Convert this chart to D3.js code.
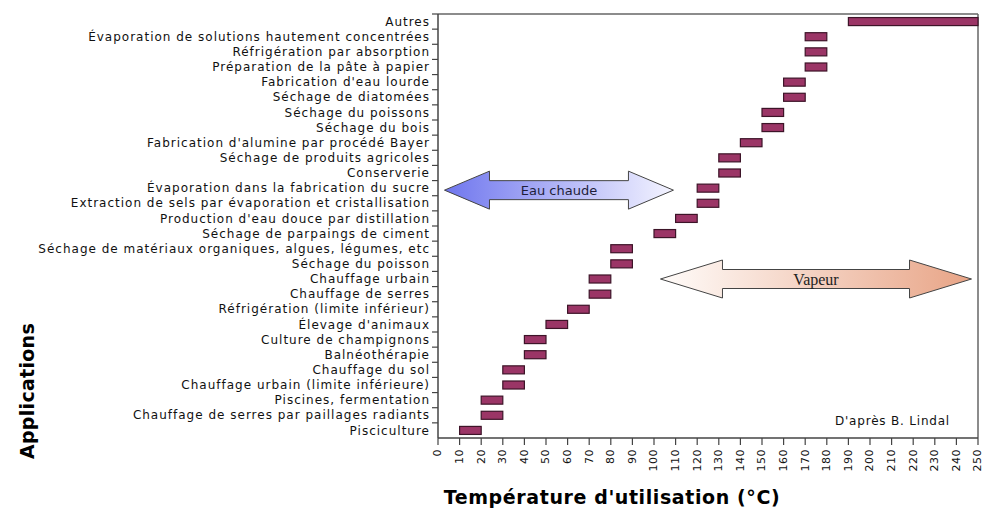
<!DOCTYPE html>
<html><head><meta charset="utf-8">
<script src="https://cdn.jsdelivr.net/npm/d3@7"></script>
<style>body{margin:0;background:#fff}svg{display:block}</style>
</head><body><svg id="c" width="982" height="511"></svg>
<script>
const categories = [
  "Autres",
  "Évaporation de solutions hautement concentrées",
  "Réfrigération par absorption",
  "Préparation de la pâte à papier",
  "Fabrication d'eau lourde",
  "Séchage de diatomées",
  "Séchage du poissons",
  "Séchage du bois",
  "Fabrication d'alumine par procédé Bayer",
  "Séchage de produits agricoles",
  "Conserverie",
  "Évaporation dans la fabrication du sucre",
  "Extraction de sels par évaporation et cristallisation",
  "Production d'eau douce par distillation",
  "Séchage de parpaings de ciment",
  "Séchage de matériaux organiques, algues, légumes, etc",
  "Séchage du poisson",
  "Chauffage urbain",
  "Chauffage de serres",
  "Réfrigération (limite inférieur)",
  "Élevage d'animaux",
  "Culture de champignons",
  "Balnéothérapie",
  "Chauffage du sol",
  "Chauffage urbain (limite inférieure)",
  "Piscines, fermentation",
  "Chauffage de serres par paillages radiants",
  "Pisciculture"
];
const tempMin = [190,170,170,170,160,160,150,150,140,130,130,120,120,110,100,80,80,70,70,60,50,40,40,30,30,20,20,10];
const tempMax = [250,180,180,180,170,170,160,160,150,140,140,130,130,120,110,90,90,80,80,70,60,50,50,40,40,30,30,20];
const xTicks = d3.range(0, 251, 10);
const arrowLabels = ["Eau chaude", "Vapeur"];
const arrowFrom = [3, 103];
const arrowTo = [109, 247];
const arrowRow = ["Évaporation dans la fabrication du sucre", "Chauffage urbain"];

const svg = d3.select("#c");
const L = 438, R = 978, T = 14, B = 438;
const x = d3.scaleLinear().domain([0, 250]).range([L, R]);
const y = d3.scaleBand().domain(categories).range([T, B]).paddingInner(0.47).paddingOuter(0.235);
const yb = d3.scaleBand().domain(categories).range([T, B]);

const defs = svg.append("defs");
const g1 = defs.append("linearGradient").attr("id","gBlue").attr("x1","0").attr("x2","1").attr("y1","0").attr("y2","0");
g1.append("stop").attr("offset","0").attr("stop-color","#6f76ee");
g1.append("stop").attr("offset","1").attr("stop-color","#f4f4ff");
const g2 = defs.append("linearGradient").attr("id","gSalmon").attr("x1","0").attr("x2","1").attr("y1","0").attr("y2","0");
g2.append("stop").attr("offset","0").attr("stop-color","#fffcfa");
g2.append("stop").attr("offset","1").attr("stop-color","#e8a486");

// frame
svg.append("line").attr("x1",L).attr("x2",R).attr("y1",T).attr("y2",T).attr("stroke","#666").attr("stroke-width",1.5);
svg.append("line").attr("x1",R).attr("x2",R).attr("y1",T).attr("y2",B).attr("stroke","#666").attr("stroke-width",1.5);

// arrows
const arrowSpecs = [
  {head:45, hh:19, sh:9.5, fill:"url(#gBlue)", font:"DejaVu Sans, Verdana, sans-serif", size:13, color:"#1e1e3a"},
  {head:62, hh:19, sh:9.5, fill:"url(#gSalmon)", font:"Liberation Serif, Times New Roman, serif", size:16, color:"#222"}
];
arrowLabels.forEach((lab, i) => {
  const s = arrowSpecs[i];
  const x0 = x(arrowFrom[i]), x1 = x(arrowTo[i]);
  const cy = yb(arrowRow[i]) + yb.bandwidth()/2 + (i===0 ? 2 : 0);
  const pts = [
    [x0, cy], [x0+s.head, cy-s.hh], [x0+s.head, cy-s.sh], [x1-s.head, cy-s.sh], [x1-s.head, cy-s.hh],
    [x1, cy], [x1-s.head, cy+s.hh], [x1-s.head, cy+s.sh], [x0+s.head, cy+s.sh], [x0+s.head, cy+s.hh]
  ];
  svg.append("path").attr("d", "M" + pts.map(p => p.join(",")).join("L") + "Z")
    .attr("fill", s.fill).attr("stroke", "#444").attr("stroke-width", 1);
  svg.append("text").attr("x", (x0+x1)/2).attr("y", cy).attr("dy","0.35em")
    .attr("text-anchor","middle").attr("font-family", s.font).attr("font-size", s.size)
    .attr("fill", s.color).text(lab);
});

// bars
svg.append("g").selectAll("rect").data(categories).join("rect")
  .attr("x", (d,i) => x(tempMin[i]))
  .attr("width", (d,i) => x(tempMax[i]) - x(tempMin[i]))
  .attr("y", d => y(d))
  .attr("height", y.bandwidth())
  .attr("fill", "#9b3566").attr("stroke", "#3d1428").attr("stroke-width", 1.2);

// y axis
const ya = svg.append("g").attr("transform", `translate(${L},0)`);
ya.append("line").attr("x1",0).attr("x2",0).attr("y1",T).attr("y2",B).attr("stroke","#444").attr("stroke-width",1.5);
ya.selectAll("line.tk").data(categories).join("line").attr("class","tk")
  .attr("x1",-6).attr("x2",0).attr("y1", d => yb(d)).attr("y2", d => yb(d))
  .attr("stroke","#444").attr("stroke-width",1.2);
ya.selectAll("text").data(categories).join("text")
  .attr("x",-8).attr("y", d => yb(d) + yb.bandwidth()/2).attr("dy","0.35em")
  .attr("text-anchor","end").attr("font-family","DejaVu Sans, Verdana, sans-serif").attr("font-size",12)
  .attr("letter-spacing", 1).attr("fill","#111").text(d => d);

// x axis
const xa = svg.append("g").attr("transform", `translate(0,${B})`);
xa.append("line").attr("x1",L).attr("x2",R).attr("y1",0).attr("y2",0).attr("stroke","#444").attr("stroke-width",1.5);
xa.selectAll("line.tk").data(xTicks).join("line").attr("class","tk")
  .attr("x1", d => x(d)).attr("x2", d => x(d)).attr("y1",0).attr("y2",7)
  .attr("stroke","#444").attr("stroke-width",1.2);
xa.selectAll("text").data(xTicks).join("text")
  .attr("transform", d => `translate(${x(d)},11) rotate(-90)`)
  .attr("dy","0.3em").attr("text-anchor","end")
  .attr("font-family","DejaVu Sans, Verdana, sans-serif").attr("font-size",11).attr("fill","#111")
  .attr("letter-spacing", 0.5).text(d => d);

// titles
svg.append("text").attr("x", 612).attr("y", 504).attr("text-anchor","middle")
  .attr("font-family","DejaVu Sans, Verdana, sans-serif").attr("font-weight","bold").attr("font-size",19)
  .attr("letter-spacing", 0.6).attr("fill","#000").text("Température d'utilisation (°C)");
svg.append("text").attr("transform","translate(34,391) rotate(-90)").attr("text-anchor","middle")
  .attr("font-family","DejaVu Sans, Verdana, sans-serif").attr("font-weight","bold").attr("font-size",19)
  .attr("letter-spacing", 0.3).attr("fill","#000").text("Applications");
svg.append("text").attr("x", 950).attr("y", 421).attr("dy","0.35em").attr("text-anchor","end")
  .attr("font-family","DejaVu Sans, Verdana, sans-serif").attr("font-size",12).attr("fill","#111")
  .attr("letter-spacing", 0.8).text("D'après B. Lindal");
</script></body></html>
